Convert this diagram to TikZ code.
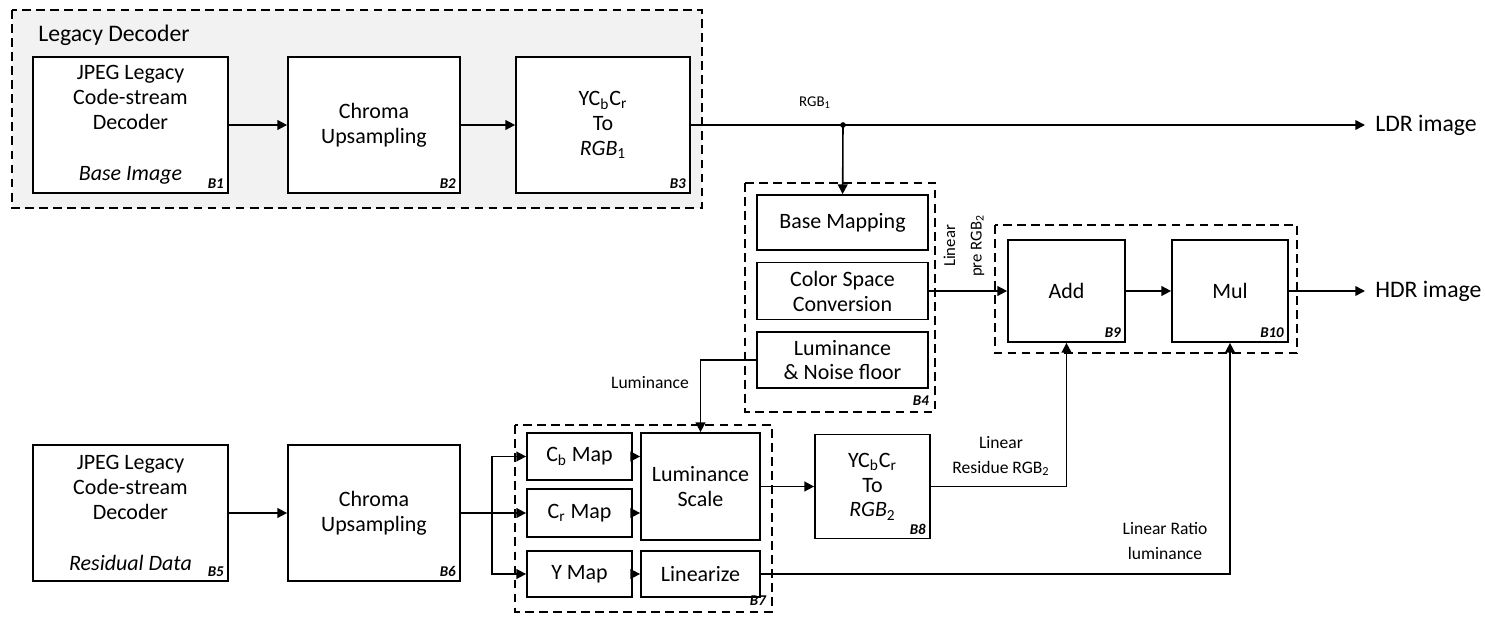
\documentclass[tikz,border=0pt]{standalone}
\usepackage{fontspec}
\setmainfont{Carlito}
\usetikzlibrary{arrows.meta}
\begin{document}
\begin{tikzpicture}[x=0.02cm, y=-0.02cm,
        block/.style={draw, line width=1pt, fill=white, align=center, inner sep=2pt, font=\fontsize{12.5}{14.2}\selectfont},
        group/.style={draw, line width=0.9pt, dash pattern=on 5pt off 3pt},
        connection/.style={-{Triangle[length=5.5pt, width=5.5pt]}, line width=0.9pt},
        wire/.style={line width=0.9pt},
        tag/.style={font=\fontsize{8.5}{9}\selectfont\bfseries\itshape, inner sep=1pt, anchor=south east},
        note/.style={font=\fontsize{10}{14}\selectfont, align=center, inner sep=0pt},
        outtext/.style={font=\fontsize{13.5}{16}\selectfont, anchor=west, inner sep=0pt}
    ]
        \useasboundingbox (0,0) rectangle (1485,618);

        % Legacy decoder (top row)
        \draw[group, fill=black!5] (12,10) rectangle (702,208);
        \node[anchor=west, inner sep=0pt, font=\fontsize{13.5}{16}\selectfont] (legacytxt) at (38,35) {Legacy Decoder};
        \node[block, minimum width=3.9cm, minimum height=2.72cm] (b1) at (130.5,125) {JPEG Legacy\\Code-stream\\Decoder\\[15pt]\textit{Base Image}};
        \node[block, minimum width=3.44cm, minimum height=2.72cm] (b2) at (374,125) {Chroma\\Upsampling};
        \node[block, minimum width=3.48cm, minimum height=2.72cm] (b3) at (603,125) {YC\textsubscript{b}C\textsubscript{r}\\To\\\textit{RGB}\textsubscript{1}};

        % Base mapping group B4
        \draw[group] (745,183) rectangle (935,412);
        \node[block, minimum width=3.42cm, minimum height=1.1cm] (bmap) at (842.5,222.5) {Base Mapping};
        \node[block, minimum width=3.42cm, minimum height=1.14cm] (csc) at (842.5,291) {Color Space\\Conversion};
        \node[block, minimum width=3.42cm, minimum height=1.12cm] (lnf) at (842.5,360) {Luminance\\\& Noise floor};
        \node[tag] (b4tag) at (931,408) {B4};

        % Add / Mul
        \draw[group] (995,225) rectangle (1297,353);
        \node[block, minimum width=2.34cm, minimum height=2.04cm] (add) at (1066.5,291) {Add};
        \node[block, minimum width=2.32cm, minimum height=2.04cm] (mul) at (1230,291) {Mul};

        % Residual row
        \node[block, minimum width=3.9cm, minimum height=2.72cm] (b5) at (130.5,513) {JPEG Legacy\\Code-stream\\Decoder\\[15pt]\textit{Residual Data}};
        \node[block, minimum width=3.44cm, minimum height=2.72cm] (b6) at (374,513) {Chroma\\Upsampling};

        % Map group B7
        \draw[group] (515,425) rectangle (772,612);
        \node[block, minimum width=2.1cm, minimum height=0.94cm] (cbmap) at (579.5,456.5) {C\textsubscript{b} Map};
        \node[block, minimum width=2.1cm, minimum height=0.96cm] (crmap) at (579.5,513) {C\textsubscript{r} Map};
        \node[block, minimum width=2.1cm, minimum height=0.92cm] (ymap) at (579.5,574) {Y Map};
        \node[block, minimum width=2.38cm, minimum height=2.14cm] (lscale) at (700.5,486.5) {Luminance\\Scale};
        \node[block, minimum width=2.38cm, minimum height=0.92cm] (lin) at (700.5,574) {Linearize};
        \node[tag] (b7tag) at (768,608) {B7};

        \node[block, minimum width=2.3cm, minimum height=2.08cm] (b8) at (872.5,486.5) {YC\textsubscript{b}C\textsubscript{r}\\To\\\textit{RGB}\textsubscript{2}};

        % Block numbers
        \foreach \n/\t in {b1/B1, b2/B2, b3/B3, b5/B5, b6/B6, b8/B8, add/B9, mul/B10} {
            \node[tag] (\n tag) at ([shift={(-3,-3)}]\n.south east) {\t};
        }

        % Outputs
        \coordinate (split1) at (843,125);
        \coordinate (ldrend) at (1365,125);
        \coordinate (hdrend) at (1365,291);
        \node[outtext] (ldrtxt) at (1375,125) {LDR image};
        \node[outtext] (hdrtxt) at (1375,291) {HDR image};

        % Connections top row
        \draw[connection] (b1) -- (b2);
        \draw[connection] (b2) -- (b3);
        \draw[connection] (b3) -- (ldrend);
        \fill (split1) circle (1.6pt);
        \draw[connection] (split1) -- (bmap);
        \draw[connection] (csc) -- (add);
        \draw[connection] (add) -- (mul);
        \draw[connection] (mul) -- (hdrend);
        \draw[connection] (lnf.west) -| (lscale.north);

        % Connections residual row
        \coordinate (split2) at (492,513);
        \draw[connection] (b5) -- (b6);
        \draw[wire] (b6.east) -- (split2);
        \draw[connection] (split2) |- (cbmap.west);
        \draw[connection] (split2) -- (crmap.west);
        \draw[connection] (split2) |- (ymap.west);
        \foreach \a/\b in {cbmap/lscale, crmap/lscale, ymap/lin} {
            \draw[connection] (\a.east) -- (\a.east -| \b.west);
        }
        \draw[connection] (lscale) -- (b8);
        \draw[connection] (b8.east) -| (add.south);
        \draw[connection] (lin.east) -| (mul.south);

        % Labels
        \node[note, font=\fontsize{8.5}{10}\selectfont] (rgbtxt) at (815,103) {RGB\textsubscript{1}};
        \node[note, rotate=90, font=\fontsize{9.5}{15}\selectfont] (pretxt) at (964,246) {Linear\\pre RGB\textsubscript{2}};
        \node[note] (lumtxt) at (650,383) {Luminance};
        \node[note] (restxt) at (1001,456) {Linear\\Residue RGB\textsubscript{2}};
        \node[note] (ratiotxt) at (1165,541) {Linear Ratio\\luminance};
    \end{tikzpicture}
\end{document}
